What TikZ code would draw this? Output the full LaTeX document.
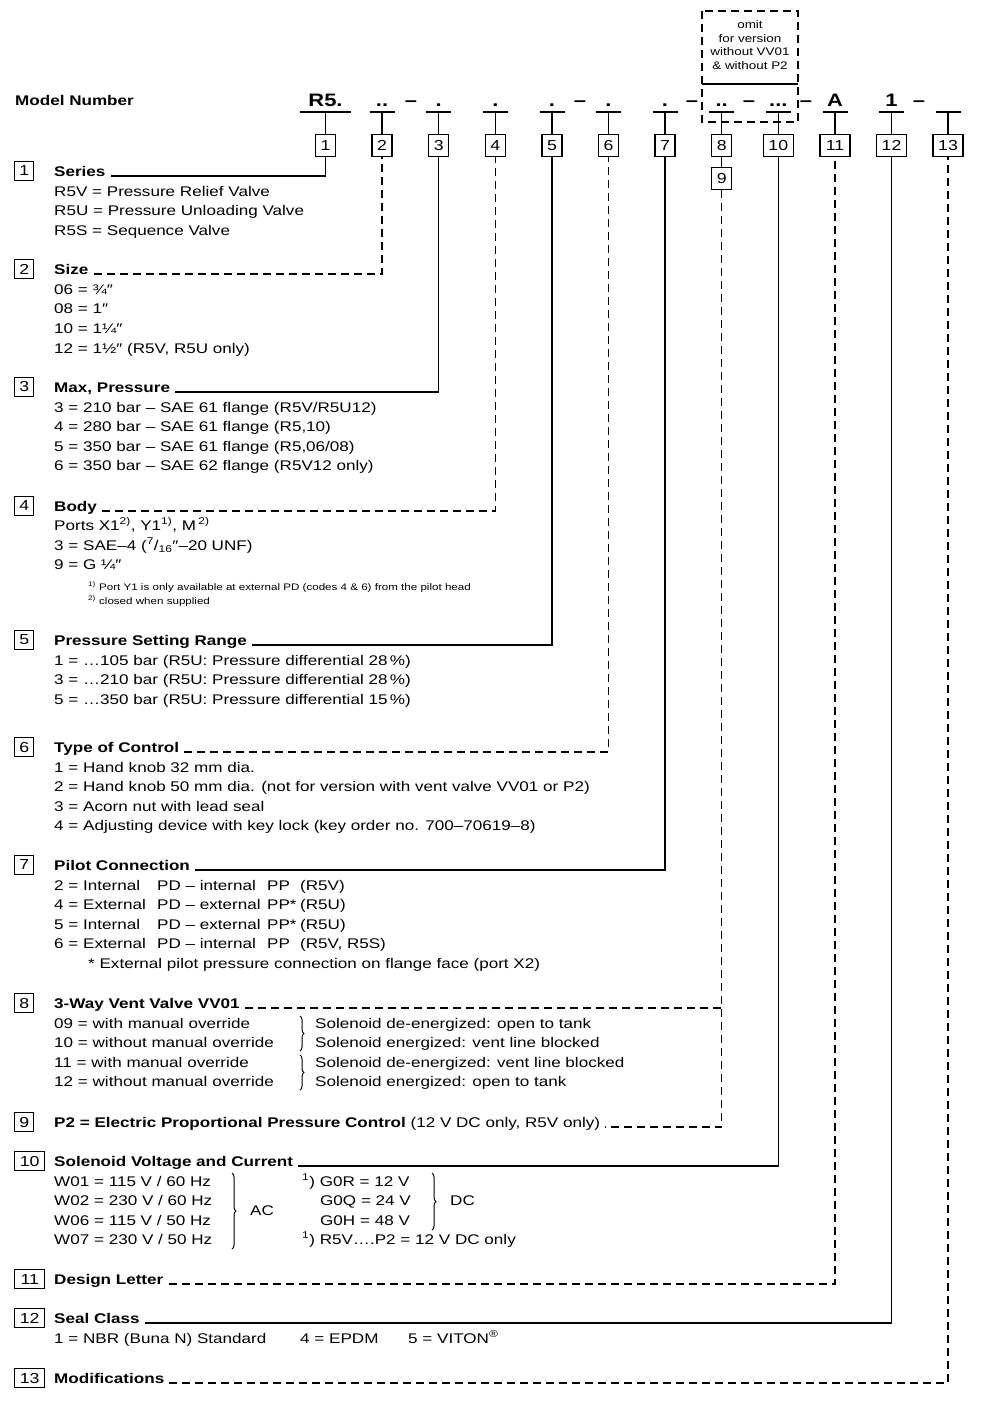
\documentclass[tikz,border=0pt]{standalone}
\usepackage{fontspec}
\setmainfont[FakeStretch=1.22]{Liberation Sans}
\usetikzlibrary{decorations.pathreplacing}
\tikzset{
  itm/.style={anchor=base west, inner sep=0pt, font=\fontsize{14}{16}\selectfont},
  hdg/.style={anchor=base west, inner sep=0pt, font=\fontsize{14}{16}\selectfont\bfseries},
  fnote/.style={anchor=base west, inner sep=0pt, font=\fontsize{9.5}{11}\selectfont},
  mcode/.style={anchor=base, inner sep=0pt, font=\fontsize{18}{20}\selectfont\bfseries},
  tbox/.style={draw, line width=1.4pt, minimum width=20pt, minimum height=22pt, inner sep=0pt, font=\fontsize{14.5}{16}\selectfont},
  tboxw/.style={tbox, minimum width=30pt},
  lbox/.style={draw, line width=1.4pt, minimum width=19pt, minimum height=19pt, inner sep=0pt, anchor=west, font=\fontsize{14.5}{16}\selectfont},
  lboxw/.style={lbox, minimum width=30pt},
  sline/.style={line width=1.5pt},
  dline/.style={line width=1.5pt, dash pattern=on 8pt off 5pt},
  brc/.style={line width=1pt, decorate, decoration={brace, amplitude=4pt}},
}
\begin{document}
\begin{tikzpicture}[x=1pt,y=-1pt]
\useasboundingbox (0,0) rectangle (1000,1411);

% ---------- model number row ----------
\node[hdg] (mn) at (15,105) {Model Number};
\node[mcode] (c1) at (325.5,106) {R5.};
\node[mcode] (c2) at (382,106) {..};
\node[mcode] (d1) at (411,106) {–};
\node[mcode] (c3) at (438.7,106) {.};
\node[mcode] (c4) at (495.3,106) {.};
\node[mcode] (c5) at (552,106) {.};
\node[mcode] (d2) at (580,106) {–};
\node[mcode] (c6) at (608.5,106) {.};
\node[mcode] (c7) at (665,106) {.};
\node[mcode] (d3) at (692,106) {–};
\node[mcode] (c8) at (721.7,106) {..};
\node[mcode] (d4) at (749,106) {–};
\node[mcode] (c10) at (778.3,106) {...};
\node[mcode] (d5) at (806,106) {–};
\node[mcode] (c11) at (835,106) {A};
\node[mcode] (c12) at (891.5,106) {1};
\node[mcode] (d6) at (919,106) {–};

% omit box
\draw[dline] (702,11) rectangle (798,122);
\draw[sline] (702,84) -- (798,84);
\node[align=center, inner sep=0pt, font=\fontsize{11}{13.7}\selectfont] (omit) at (750,45) {omit\\for version\\without VV01\\\& without P2};

% ---------- top boxes ----------
\node[tbox] (t1) at (325.5,145.5) {1};
\node[tbox] (t2) at (382,145.5) {2};
\node[tbox] (t3) at (438.7,145.5) {3};
\node[tbox] (t4) at (495.3,145.5) {4};
\node[tbox] (t5) at (552,145.5) {5};
\node[tbox] (t6) at (608.5,145.5) {6};
\node[tbox] (t7) at (665,145.5) {7};
\node[tbox] (t8) at (721.7,145.5) {8};
\node[tboxw] (t10) at (778.3,145.5) {10};
\node[tboxw] (t11) at (835,145.5) {11};
\node[tboxw] (t12) at (891.5,145.5) {12};
\node[tboxw] (t13) at (948,145.5) {13};
\node[tbox] (t9) at (721.7,178.5) {9};
\draw[sline] (t8) -- (t9);

\draw[sline] (300,112) -- (351,112);
\coordinate (u1) at (325.5,112);
\draw[sline] (u1) -- (t1);
\foreach \n/\x in {2/382,3/438.7,4/495.3,5/552,6/608.5,7/665,8/721.7,10/778.3,11/835,12/891.5,13/948}{
  \coordinate (u\n) at (\x,112);
  \draw[sline] (\x-12.5,112) -- (\x+12.5,112);
  \draw[sline] (u\n) -- (t\n);
}

% ---------- 1 Series ----------
\node[lbox] (l1) at (14,171) {1};
\node[hdg] (h1) at (54,176) {Series};
\draw[sline] ([xshift=5pt]h1.base east) -| (t1.south);
\node[itm] (s1a) at (54,196) {R5V = Pressure Relief Valve};
\node[itm] (s1b) at (54,215) {R5U = Pressure Unloading Valve};
\node[itm] (s1c) at (54,235) {R5S = Sequence Valve};

% ---------- 2 Size ----------
\node[lbox] (l2) at (14,269) {2};
\node[hdg] (h2) at (54,274) {Size};
\draw[dline] ([xshift=5pt]h2.base east) -| (t2.south);
\node[itm] (s2a) at (54,294) {06 = ¾″};
\node[itm] (s2b) at (54,313) {08 = 1″};
\node[itm] (s2c) at (54,333) {10 = 1¼″};
\node[itm] (s2d) at (54,353) {12 = 1½″ (R5V, R5U only)};

% ---------- 3 Max Pressure ----------
\node[lbox] (l3) at (14,387) {3};
\node[hdg] (h3) at (54,392) {Max, Pressure};
\draw[sline] ([xshift=5pt]h3.base east) -| (t3.south);
\node[itm] (s3a) at (54,412) {3 = 210 bar – SAE 61 flange (R5V/R5U12)};
\node[itm] (s3b) at (54,431) {4 = 280 bar – SAE 61 flange (R5,10)};
\node[itm] (s3c) at (54,451) {5 = 350 bar – SAE 61 flange (R5,06/08)};
\node[itm] (s3d) at (54,470) {6 = 350 bar – SAE 62 flange (R5V12 only)};

% ---------- 4 Body ----------
\node[lbox] (l4) at (14,506) {4};
\node[hdg] (h4) at (54,511) {Body};
\draw[dline] ([xshift=5pt]h4.base east) -| (t4.south);
\node[itm] (s4a) at (54,530) {Ports X1\textsuperscript{2)}, Y1\textsuperscript{1)}, M\,\textsuperscript{2)}};
\node[itm] (s4b) at (54,550) {3 = SAE–4 (\textsuperscript{7}/\textsubscript{16}″–20 UNF)};
\node[itm] (s4c) at (54,569) {9 = G ¼″};
\node[fnote] (s4d) at (88,590) {\textsuperscript{1)} Port Y1 is only available at external PD (codes 4 \& 6) from the pilot head};
\node[fnote] (s4e) at (88,604) {\textsuperscript{2)} closed when supplied};

% ---------- 5 Pressure Setting Range ----------
\node[lbox] (l5) at (14,640) {5};
\node[hdg] (h5) at (54,645) {Pressure Setting Range};
\draw[sline] ([xshift=5pt]h5.base east) -| (t5.south);
\node[itm] (s5a) at (54,665) {1 = …105 bar (R5U: Pressure differential 28\,\%)};
\node[itm] (s5b) at (54,684) {3 = …210 bar (R5U: Pressure differential 28\,\%)};
\node[itm] (s5c) at (54,704) {5 = …350 bar (R5U: Pressure differential 15\,\%)};

% ---------- 6 Type of Control ----------
\node[lbox] (l6) at (14,747) {6};
\node[hdg] (h6) at (54,752) {Type of Control};
\draw[dline] ([xshift=5pt]h6.base east) -| (t6.south);
\node[itm] (s6a) at (54,772) {1 = Hand knob 32 mm dia.};
\node[itm] (s6b) at (54,791) {2 = Hand knob 50 mm dia. (not for version with vent valve VV01 or P2)};
\node[itm] (s6c) at (54,811) {3 = Acorn nut with lead seal};
\node[itm] (s6d) at (54,830) {4 = Adjusting device with key lock (key order no. 700–70619–8)};

% ---------- 7 Pilot Connection ----------
\node[lbox] (l7) at (14,865) {7};
\node[hdg] (h7) at (54,870) {Pilot Connection};
\draw[sline] ([xshift=5pt]h7.base east) -| (t7.south);
\node[itm] (s7a) at (54,890) {\makebox[103pt][l]{2 = Internal}\makebox[110pt][l]{PD – internal}\makebox[33pt][l]{PP}(R5V)};
\node[itm] (s7b) at (54,909) {\makebox[103pt][l]{4 = External}\makebox[110pt][l]{PD – external}\makebox[33pt][l]{PP*}(R5U)};
\node[itm] (s7c) at (54,929) {\makebox[103pt][l]{5 = Internal}\makebox[110pt][l]{PD – external}\makebox[33pt][l]{PP*}(R5U)};
\node[itm] (s7d) at (54,948) {\makebox[103pt][l]{6 = External}\makebox[110pt][l]{PD – internal}\makebox[33pt][l]{PP}(R5V, R5S)};
\node[itm] (s7e) at (88,968) {* External pilot pressure connection on flange face (port X2)};

% ---------- 8 Vent valve ----------
\node[lbox] (l8) at (14,1003) {8};
\node[hdg] (h8) at (54,1008) {3-Way Vent Valve VV01};
\draw[dline] ([xshift=5pt]h8.base east) -- (h8.base east -| t9.south);
\node[itm] (s8a) at (54,1028) {09 = with manual override};
\node[itm] (s8b) at (54,1047) {10 = without manual override};
\node[itm] (s8c) at (54,1067) {11 = with manual override};
\node[itm] (s8d) at (54,1086) {12 = without manual override};
\draw[brc] (300,1016) -- (300,1051);
\draw[brc] (300,1055) -- (300,1090);
\node[itm] (s8e) at (315,1028) {Solenoid de-energized: open to tank};
\node[itm] (s8f) at (315,1047) {Solenoid energized: vent line blocked};
\node[itm] (s8g) at (315,1067) {Solenoid de-energized: vent line blocked};
\node[itm] (s8h) at (315,1086) {Solenoid energized: open to tank};

% ---------- 9 P2 ----------
\node[lbox] (l9) at (14,1122) {9};
\node[hdg] (h9) at (54,1127) {P2 = Electric Proportional Pressure Control {\mdseries(12 V DC only, R5V only)}};
\draw[dline] (t9.south) |- ([xshift=5pt]h9.base east);

% ---------- 10 Solenoid ----------
\node[lboxw] (l10) at (14,1161) {10};
\node[hdg] (h10) at (54,1166) {Solenoid Voltage and Current};
\draw[sline] ([xshift=5pt]h10.base east) -| (t10.south);
\node[itm] (s10a) at (54,1186) {W01 = 115 V / 60 Hz};
\node[itm] (s10b) at (54,1205) {W02 = 230 V / 60 Hz};
\node[itm] (s10c) at (54,1225) {W06 = 115 V / 50 Hz};
\node[itm] (s10d) at (54,1244) {W07 = 230 V / 50 Hz};
\draw[brc] (232,1173) -- (232,1249);
\node[itm] (s10e) at (250,1215) {AC};
\node[itm] (s10f) at (302,1186) {\textsuperscript{1}) G0R = 12 V};
\node[itm] (s10g) at (320,1205) {G0Q = 24 V};
\node[itm] (s10h) at (320,1225) {G0H = 48 V};
\draw[brc] (432,1173) -- (432,1230);
\node[itm] (s10i) at (450,1205) {DC};
\node[itm] (s10j) at (302,1244) {\textsuperscript{1}) R5V….P2 = 12 V DC only};

% ---------- 11 Design Letter ----------
\node[lboxw] (l11) at (14,1279) {11};
\node[hdg] (h11) at (54,1284) {Design Letter};
\draw[dline] ([xshift=5pt]h11.base east) -| (t11.south);

% ---------- 12 Seal Class ----------
\node[lboxw] (l12) at (14,1318) {12};
\node[hdg] (h12) at (54,1323) {Seal Class};
\draw[sline] ([xshift=5pt]h12.base east) -| (t12.south);
\node[itm] (s12a) at (54,1343) {1 = NBR (Buna N) Standard};
\node[itm] (s12b) at (300,1343) {4 = EPDM};
\node[itm] (s12c) at (408,1343) {5 = VITON\textsuperscript{®}};

% ---------- 13 Modifications ----------
\node[lboxw] (l13) at (14,1378) {13};
\node[hdg] (h13) at (54,1383) {Modifications};
\draw[dline] ([xshift=5pt]h13.base east) -| (t13.south);
\end{tikzpicture}
\end{document}
